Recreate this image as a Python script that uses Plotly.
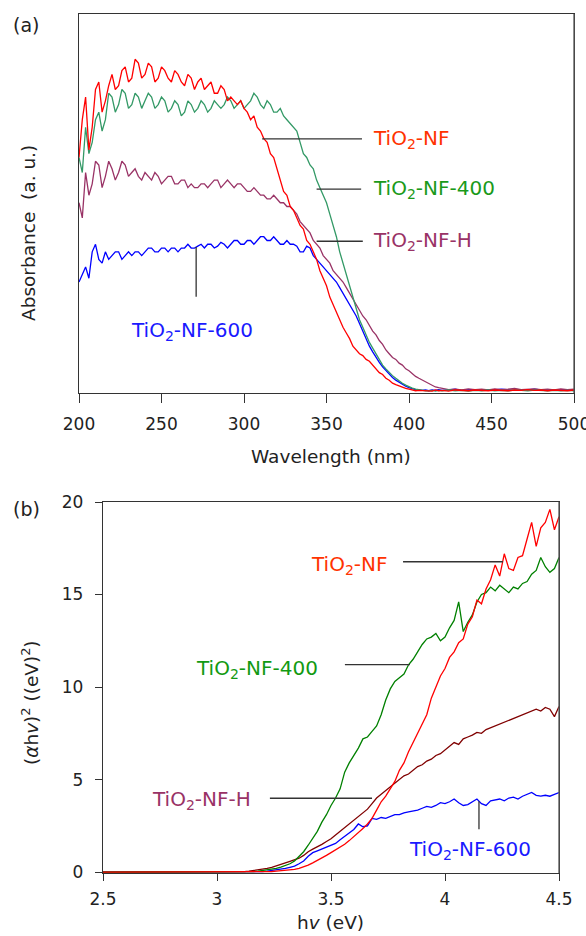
import numpy as np
import plotly.graph_objects as go

FONT = "DejaVu Sans"

# ---------------- (a) UV-vis absorbance spectra ----------------
wavelength = np.concatenate([np.arange(200, 421, 2), np.arange(424, 501, 4)])  # nm

abs_nf = [0.62, 0.72, 0.78, 0.64, 0.70, 0.80, 0.82, 0.74, 0.77, 0.81,
          0.84, 0.80, 0.81, 0.85, 0.86, 0.82, 0.83, 0.88, 0.87, 0.83,
          0.84, 0.87, 0.86, 0.82, 0.83, 0.86, 0.85, 0.83, 0.82, 0.85,
          0.84, 0.82, 0.81, 0.84, 0.83, 0.80, 0.82, 0.83, 0.80, 0.81,
          0.82, 0.79, 0.79, 0.81, 0.80, 0.77, 0.78, 0.77, 0.76, 0.77,
          0.75, 0.74, 0.72, 0.73, 0.70, 0.69, 0.67, 0.66, 0.63, 0.62,
          0.59, 0.56, 0.53, 0.52, 0.49, 0.48, 0.46, 0.44, 0.43, 0.40,
          0.39, 0.37, 0.35, 0.32, 0.30, 0.28, 0.25, 0.23, 0.21, 0.19,
          0.17, 0.155, 0.14, 0.12, 0.11, 0.10, 0.095, 0.085, 0.08, 0.07,
          0.06, 0.05, 0.045, 0.035, 0.03, 0.022, 0.018, 0.014, 0.012, 0.008,
          0.006, 0.004, 0.002, 0.003, 0.003, 0.001, 0.003, 0.001, 0.004, 0.002,
          0.003,
          0.001, 0.004, 0.003, 0.002, 0.004, 0.003, 0.002, 0.004, 0.003, 0.002,
          0.004, 0.003, 0.005, 0.003, 0.004, 0.002, 0.004, 0.003, 0.002, 0.004]

abs_nf400 = [0.62, 0.58, 0.70, 0.63, 0.66, 0.72, 0.74, 0.69, 0.72, 0.79,
             0.78, 0.74, 0.76, 0.80, 0.79, 0.75, 0.76, 0.79, 0.78, 0.75,
             0.77, 0.79, 0.78, 0.75, 0.76, 0.78, 0.77, 0.74, 0.75, 0.77,
             0.76, 0.73, 0.74, 0.77, 0.76, 0.74, 0.75, 0.77, 0.76, 0.74,
             0.75, 0.77, 0.76, 0.75, 0.76, 0.78, 0.77, 0.75, 0.76, 0.77,
             0.75, 0.76, 0.77, 0.79, 0.78, 0.76, 0.75, 0.77, 0.76, 0.74,
             0.74, 0.75, 0.73, 0.72, 0.71, 0.70, 0.69, 0.66, 0.63, 0.62,
             0.60, 0.59, 0.56, 0.54, 0.52, 0.50, 0.47, 0.44, 0.41, 0.37,
             0.34, 0.31, 0.28, 0.25, 0.22, 0.19, 0.17, 0.15, 0.13, 0.115,
             0.10, 0.085, 0.07, 0.06, 0.05, 0.042, 0.035, 0.028, 0.022, 0.017,
             0.012, 0.009, 0.006, 0.004, 0.003, 0.002, 0.002, 0.003, 0.001, 0.003,
             0.002,
             0.004, 0.002, 0.003, 0.001, 0.003, 0.002, 0.004, 0.002, 0.003, 0.002,
             0.004, 0.003, 0.002, 0.004, 0.003, 0.002, 0.003, 0.002, 0.003, 0.002]

abs_nfh = [0.50, 0.46, 0.58, 0.52, 0.55, 0.61, 0.60, 0.54, 0.57, 0.61,
           0.59, 0.56, 0.58, 0.61, 0.60, 0.57, 0.58, 0.59, 0.57, 0.56,
           0.58, 0.57, 0.56, 0.58, 0.57, 0.55, 0.56, 0.57, 0.57, 0.55,
           0.55, 0.56, 0.56, 0.54, 0.55, 0.54, 0.54, 0.55, 0.55, 0.54,
           0.55, 0.56, 0.56, 0.54, 0.55, 0.56, 0.55, 0.54, 0.55, 0.55,
           0.54, 0.53, 0.53, 0.54, 0.53, 0.52, 0.52, 0.51, 0.51, 0.52,
           0.51, 0.50, 0.50, 0.49, 0.49, 0.48, 0.47, 0.45, 0.44, 0.43,
           0.42, 0.40, 0.39, 0.38, 0.36, 0.35, 0.34, 0.32, 0.31, 0.30,
           0.29, 0.275, 0.26, 0.245, 0.23, 0.215, 0.20, 0.19, 0.175, 0.16,
           0.15, 0.135, 0.125, 0.11, 0.10, 0.09, 0.085, 0.075, 0.07, 0.06,
           0.055, 0.047, 0.04, 0.035, 0.03, 0.025, 0.02, 0.016, 0.012, 0.01,
           0.008,
           0.005, 0.006, 0.004, 0.007, 0.005, 0.006, 0.004, 0.007, 0.005, 0.006,
           0.008, 0.005, 0.006, 0.007, 0.005, 0.006, 0.004, 0.007, 0.005, 0.006]

abs_nf600 = [0.29, 0.31, 0.33, 0.30, 0.37, 0.39, 0.35, 0.34, 0.37, 0.35,
             0.36, 0.37, 0.37, 0.35, 0.36, 0.37, 0.36, 0.37, 0.37, 0.36,
             0.37, 0.38, 0.38, 0.37, 0.37, 0.38, 0.38, 0.37, 0.38, 0.38,
             0.37, 0.38, 0.38, 0.39, 0.38, 0.38, 0.385, 0.39, 0.38, 0.39,
             0.39, 0.38, 0.385, 0.395, 0.39, 0.38, 0.39, 0.40, 0.40, 0.39,
             0.39, 0.40, 0.40, 0.39, 0.40, 0.41, 0.41, 0.40, 0.40, 0.41,
             0.40, 0.39, 0.39, 0.40, 0.39, 0.39, 0.385, 0.37, 0.37, 0.385,
             0.38, 0.36, 0.35, 0.34, 0.33, 0.32, 0.31, 0.30, 0.29, 0.275,
             0.26, 0.245, 0.23, 0.215, 0.20, 0.18, 0.16, 0.14, 0.12, 0.105,
             0.09, 0.077, 0.065, 0.055, 0.045, 0.037, 0.03, 0.024, 0.018, 0.014,
             0.01, 0.007, 0.005, 0.004, 0.003, 0.004, 0.002, 0.004, 0.003, 0.005,
             0.003,
             0.004, 0.006, 0.003, 0.005, 0.004, 0.003, 0.005, 0.004, 0.006, 0.004,
             0.003, 0.005, 0.004, 0.006, 0.004, 0.005, 0.003, 0.004, 0.005, 0.003]

# ---------------- (b) Tauc plot ----------------
hv = np.concatenate([[2.50, 3.00], np.round(np.arange(3.10, 4.501, 0.02), 2)])

tauc_nf = [0, 0,
           0, 0, 0, 0, 0, 0, 0.02, 0.03, 0.05, 0.07,
           0.09, 0.12, 0.15, 0.2, 0.28, 0.38, 0.5, 0.62, 0.75, 0.9,
           1.05, 1.2, 1.35, 1.5, 1.7, 1.9, 2.1, 2.35, 2.6, 2.9,
           3.35, 3.8, 4.1, 4.5, 4.9, 5.5, 5.9, 6.5, 7.0, 7.5,
           8.0, 8.5, 9.4, 10.0, 10.6, 11.0, 11.6, 11.9, 12.4, 12.6,
           13.4, 13.8, 14.7, 14.5, 15.3, 15.8, 16.6, 16.0, 17.2, 16.4,
           16.3, 17.0, 17.1, 18.0, 18.9, 17.6, 18.6, 18.9, 19.6, 18.5,
           19.2]

tauc_nf400 = [0, 0,
              0, 0, 0, 0.02, 0.05, 0.08, 0.1, 0.15, 0.2, 0.27,
              0.35, 0.45, 0.6, 0.85, 1.1, 1.45, 1.8, 2.2, 2.7, 3.1,
              3.6, 4.0, 4.5, 5.4, 5.9, 6.3, 6.7, 7.2, 7.3, 7.6,
              7.9, 8.5, 9.3, 9.9, 10.3, 10.5, 10.7, 11.2, 11.5, 11.9,
              12.3, 12.6, 12.7, 12.9, 12.5, 12.7, 13.2, 13.6, 14.6, 13.0,
              13.5, 13.9, 14.6, 15.0, 15.1, 15.4, 15.2, 15.5, 15.3, 15.1,
              15.4, 15.3, 15.6, 15.7, 16.1, 16.3, 17.0, 16.5, 16.2, 16.4,
              17.0]

tauc_nfh = [0, 0,
            0, 0.02, 0.05, 0.08, 0.12, 0.15, 0.2, 0.25, 0.32, 0.43,
            0.5, 0.58, 0.65, 0.75, 0.9, 1.1, 1.24, 1.35, 1.5, 1.65,
            1.8, 2.0, 2.2, 2.4, 2.6, 2.8, 3.0, 3.25, 3.4, 3.7,
            4.0, 4.2, 4.4, 4.65, 4.8, 5.0, 5.2, 5.3, 5.5, 5.7,
            5.8, 6.0, 6.1, 6.3, 6.4, 6.6, 6.8, 7.0, 6.9, 7.2,
            7.3, 7.4, 7.55, 7.5, 7.7, 7.8, 7.9, 8.0, 8.1, 8.2,
            8.3, 8.4, 8.5, 8.6, 8.7, 8.8, 8.7, 8.9, 8.8, 8.4,
            8.95]

tauc_nf600 = [0, 0,
              0, 0, 0, 0, 0.02, 0.03, 0.05, 0.08, 0.1, 0.15,
              0.2, 0.26, 0.32, 0.45, 0.6, 0.85, 1.05, 1.15, 1.25, 1.35,
              1.45, 1.55, 1.75, 1.95, 2.1, 2.3, 2.6, 2.45, 2.5, 2.9,
              2.85, 2.95, 2.9, 3.0, 3.1, 3.1, 3.2, 3.25, 3.3, 3.35,
              3.45, 3.55, 3.5, 3.6, 3.75, 3.7, 3.8, 3.95, 3.75, 3.6,
              3.65, 3.8, 3.95, 3.7, 3.6, 3.85, 3.9, 3.95, 3.85, 4.0,
              4.05, 3.95, 4.1, 4.2, 4.3, 4.15, 4.1, 4.15, 4.1, 4.2,
              4.3]

for s in (abs_nf, abs_nf400, abs_nfh, abs_nf600):
    assert len(s) == len(wavelength), len(s)
for s in (tauc_nf, tauc_nf400, tauc_nfh, tauc_nf600):
    assert len(s) == len(hv), len(s)

W, H = 586, 936


def px(x):
    return x / W


def py(y):
    return 1 - y / H


fig = go.Figure()

# (a) curves
for ys, col in [(abs_nf600, "#0000ff"), (abs_nfh, "#993366"),
                (abs_nf400, "#339966"), (abs_nf, "#ff0000")]:
    fig.add_trace(go.Scatter(x=wavelength, y=ys, mode="lines",
                             line=dict(color=col, width=1.3),
                             xaxis="x", yaxis="y", showlegend=False))

# (b) curves
for ys, col in [(tauc_nf600, "#0000ff"), (tauc_nfh, "#800000"),
                (tauc_nf400, "#008000"), (tauc_nf, "#ff0000")]:
    fig.add_trace(go.Scatter(x=hv, y=ys, mode="lines",
                             line=dict(color=col, width=1.3),
                             xaxis="x2", yaxis="y2", showlegend=False))

axis_common = dict(showline=True, linecolor="#333333", linewidth=1.3, mirror=True,
                   showgrid=False, zeroline=False, ticks="outside", automargin=False,
                   tickcolor="#333333", tickwidth=1.3, ticklabeloverflow="allow",
                   tickfont=dict(family=FONT, size=17, color="#222222"))

fig.update_layout(
    width=W, height=H,
    margin=dict(l=0, r=0, t=0, b=0, pad=0),
    paper_bgcolor="white", plot_bgcolor="white",
    xaxis=dict(axis_common, domain=[px(79), px(574)], range=[200, 500],
               tickvals=[200, 250, 300, 350, 400, 450, 500], ticklen=9,
               ticklabelstandoff=6, anchor="y", layer="below traces"),
    yaxis=dict(axis_common, domain=[py(393), py(14)], range=[-0.004, 1.0],
               ticks="", showticklabels=False, anchor="x", layer="below traces"),
    xaxis2=dict(axis_common, domain=[px(103), px(559)], range=[2.5, 4.5],
                tickvals=[2.5, 3, 3.5, 4, 4.5], ticktext=["2.5", "3", "3.5", "4", "4.5"],
                ticklen=7, ticklabelstandoff=3, anchor="y2", layer="below traces"),
    yaxis2=dict(axis_common, domain=[py(873), py(502)], range=[-0.05, 20],
                tickvals=[0, 5, 10, 15, 20], ticklen=7, ticklabelstandoff=8,
                anchor="x2", layer="below traces"),
)

title_font = dict(family=FONT, size=18.5, color="#222222")
label_size = 20


def paper_text(text, x, y, size=18.5, angle=0):
    return dict(text=text, x=px(x), y=py(y), xref="paper", yref="paper",
                xanchor="center", yanchor="middle", showarrow=False, textangle=angle,
                font=dict(family=FONT, size=size, color="#222222"))


annotations = [
    paper_text("(a)", 26, 25, 19),
    paper_text("(b)", 26, 509, 19),
    paper_text("Wavelength (nm)", 331, 456),
    paper_text("Absorbance  (a. u.)", 28, 233, angle=-90),
    paper_text("h<i>v</i> (eV)", 330, 922),
    paper_text("(<i>α</i>h<i>v</i>)<sup>2</sup> ((eV)<sup>2</sup>)", 30, 703, angle=-90),
]

# series labels: (text, x, y, xanchor, colour, axis suffix)
series_labels = [
    ("TiO<sub>2</sub>-NF", 377, 0.669, "left", "#ff3300", ""),
    ("TiO<sub>2</sub>-NF-400", 377, 0.536, "left", "#1a9a1a", ""),
    ("TiO<sub>2</sub>-NF-H", 377, 0.398, "left", "#993366", ""),
    ("TiO<sub>2</sub>-NF-600", 268.5, 0.161, "center", "#1a1aff", ""),
    ("TiO<sub>2</sub>-NF", 3.76, 16.6, "right", "#ff3300", "2"),
    ("TiO<sub>2</sub>-NF-400", 3.45, 11.0, "right", "#129a12", "2"),
    ("TiO<sub>2</sub>-NF-H", 3.16, 3.9, "right", "#993366", "2"),
    ("TiO<sub>2</sub>-NF-600", 4.11, 1.2, "center", "#1a1aff", "2"),
]
for text, x, y, xa, col, ax in series_labels:
    annotations.append(dict(text=text, x=x, y=y, xref="x" + ax, yref="y" + ax,
                            xanchor=xa, yanchor="middle", showarrow=False,
                            font=dict(family=FONT, size=label_size, color=col)))

# leader lines: (x0, y0, x1, y1, axis suffix)
leaders = [
    (311, 0.669, 371.5, 0.669, ""),
    (344, 0.536, 371, 0.536, ""),
    (344, 0.398, 372, 0.398, ""),
    (271, 0.383, 271, 0.251, ""),
    (3.816, 16.77, 4.254, 16.77, "2"),
    (3.561, 11.21, 3.846, 11.21, "2"),
    (3.232, 3.99, 3.68, 3.99, "2"),
    (4.149, 3.83, 4.149, 2.32, "2"),
]
shapes = [dict(type="line", x0=a, y0=b, x1=c, y1=d, xref="x" + ax, yref="y" + ax,
               line=dict(color="#333333", width=1.3)) for a, b, c, d, ax in leaders]

# right-hand frame edge of each panel
for ax in ("", "2"):
    shapes.append(dict(type="line", x0=1, x1=1, y0=0, y1=1,
                       xref="x" + ax + " domain", yref="y" + ax + " domain",
                       line=dict(color="#555555", width=1.3)))

fig.update_layout(annotations=annotations, shapes=shapes)
fig.write_html("out.html")
